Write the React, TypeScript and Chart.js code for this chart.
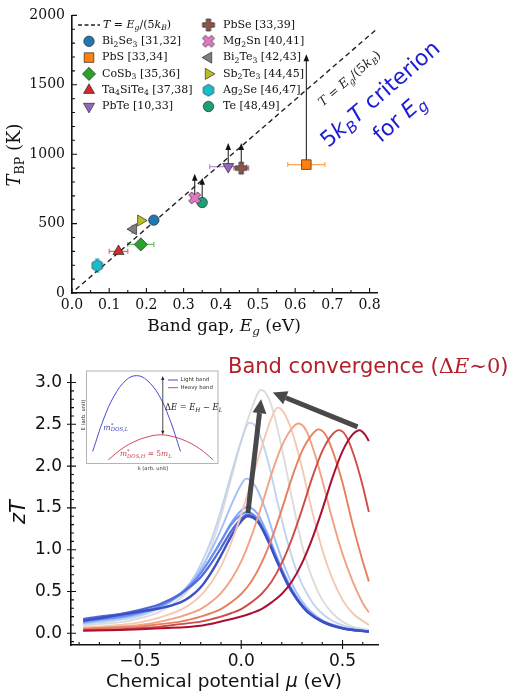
import React, { useEffect, useRef } from "react";
import { Chart, registerables } from "chart.js";
import { drawPoint } from "chart.js/helpers";

Chart.register(...registerables);

const SERIF = "'DejaVu Serif', serif";
const SANS = "'DejaVu Sans', sans-serif";
const INK = "#111";

// ---------- upper panel: T_BP against band gap ----------
const MATERIALS = ["Bi_2Se_3", "PbS", "CoSb_3", "Ta_4SiTe_4", "PbTe", "PbSe", "Mg_2Sn", "Bi_2Te_3", "Sb_2Te_3", "Ag_2Se", "Te"];
const REFS = ["[31,32]", "[33,34]", "[35,36]", "[37,38]", "[10,33]", "[33,39]", "[40,41]", "[42,43]", "[44,45]", "[46,47]", "[48,49]"];
const BAND_GAP = [0.22, 0.63, 0.185, 0.125, 0.42, 0.455, 0.33, 0.165, 0.185, 0.068, 0.35];
const T_BP = [525, 925, 350, 300, 910, 900, 685, 460, 522, 198, 652];
const GAP_ERR = [0, 0.05, 0.035, 0.025, 0.05, 0.02, 0, 0, 0, 0, 0];
const T_ERR = [0, 0, 0, 0, 0, 0, 0, 28, 0, 48, 0];
const T_ARROW_TOP = [null, 1720, null, null, 1080, 1080, 860, null, null, null, 830];
const CRITERION_LINE = [
  { x: 0.01, y: 25 },
  { x: 0.835, y: 1938 },
];

const MARKER_COLORS = ["#1f77b4", "#ff7f0e", "#2ca02c", "#d62728", "#9467bd", "#8c564b", "#e377c2", "#7f7f7f", "#bcbd22", "#17becf", "#1f9e78"];
const MARKER_KINDS = ["circle", "rect", "diamond", "up", "down", "plus", "x", "left", "right", "hexagon", "circle"];

// ---------- lower panel: zT against chemical potential ----------
const ZT_RED_5 = [[-0.78, 0.03], [-0.6, 0.04], [-0.4, 0.06], [-0.2, 0.09], [-0.1, 0.14], [0, 0.2], [0.05, 0.24], [0.1, 0.29], [0.15, 0.37], [0.2, 0.47], [0.25, 0.62], [0.3, 0.84], [0.35, 1.13], [0.4, 1.48], [0.45, 1.86], [0.5, 2.18], [0.55, 2.38], [0.585, 2.43], [0.61, 2.38], [0.63, 2.3]];
const ZT_RED_4 = [[-0.78, 0.04], [-0.6, 0.05], [-0.4, 0.08], [-0.3, 0.11], [-0.2, 0.14], [-0.1, 0.2], [-0.05, 0.24], [0, 0.29], [0.05, 0.37], [0.1, 0.47], [0.15, 0.62], [0.2, 0.84], [0.25, 1.13], [0.3, 1.48], [0.35, 1.86], [0.4, 2.18], [0.45, 2.38], [0.483, 2.43], [0.52, 2.35], [0.56, 2.1], [0.6, 1.76], [0.63, 1.45]];
const ZT_RED_3 = [[-0.78, 0.05], [-0.6, 0.07], [-0.5, 0.08], [-0.4, 0.11], [-0.3, 0.14], [-0.2, 0.2], [-0.15, 0.24], [-0.1, 0.29], [-0.05, 0.37], [0, 0.47], [0.05, 0.62], [0.1, 0.84], [0.15, 1.13], [0.2, 1.48], [0.25, 1.86], [0.3, 2.18], [0.35, 2.38], [0.382, 2.44], [0.42, 2.36], [0.46, 2.12], [0.5, 1.8], [0.55, 1.3], [0.6, 0.86], [0.63, 0.62]];
const ZT_RED_2 = [[-0.78, 0.06], [-0.6, 0.08], [-0.5, 0.1], [-0.4, 0.14], [-0.3, 0.2], [-0.25, 0.24], [-0.2, 0.29], [-0.15, 0.37], [-0.1, 0.48], [-0.05, 0.64], [0, 0.86], [0.05, 1.16], [0.1, 1.52], [0.15, 1.91], [0.2, 2.24], [0.25, 2.45], [0.283, 2.51], [0.32, 2.43], [0.36, 2.17], [0.4, 1.83], [0.45, 1.36], [0.5, 0.95], [0.55, 0.62], [0.6, 0.36], [0.63, 0.25]];
const ZT_RED_1 = [[-0.78, 0.07], [-0.7, 0.08], [-0.6, 0.1], [-0.5, 0.13], [-0.4, 0.19], [-0.3, 0.28], [-0.25, 0.35], [-0.2, 0.45], [-0.15, 0.6], [-0.1, 0.8], [-0.05, 1.08], [0, 1.42], [0.05, 1.82], [0.1, 2.22], [0.15, 2.58], [0.18, 2.7], [0.21, 2.64], [0.25, 2.42], [0.3, 1.98], [0.35, 1.46], [0.4, 1.0], [0.45, 0.65], [0.5, 0.4], [0.55, 0.24], [0.63, 0.1]];
const ZT_GRAY = [[-0.78, 0.09], [-0.7, 0.11], [-0.6, 0.13], [-0.5, 0.18], [-0.4, 0.26], [-0.3, 0.42], [-0.25, 0.55], [-0.2, 0.74], [-0.15, 1.02], [-0.1, 1.4], [-0.05, 1.85], [0, 2.3], [0.05, 2.68], [0.098, 2.91], [0.125, 2.86], [0.15, 2.72], [0.2, 2.22], [0.25, 1.62], [0.3, 1.06], [0.35, 0.66], [0.4, 0.4], [0.45, 0.24], [0.5, 0.14], [0.55, 0.08], [0.63, 0.04]];
const ZT_BLUE_6 = [[-0.78, 0.11], [-0.7, 0.13], [-0.6, 0.16], [-0.5, 0.21], [-0.4, 0.3], [-0.3, 0.47], [-0.25, 0.61], [-0.2, 0.82], [-0.15, 1.1], [-0.1, 1.47], [-0.05, 1.9], [0, 2.3], [0.04, 2.52], [0.08, 2.44], [0.13, 2.08], [0.18, 1.56], [0.23, 1.08], [0.28, 0.7], [0.33, 0.45], [0.38, 0.28], [0.45, 0.15], [0.55, 0.06], [0.63, 0.03]];
const ZT_BLUE_5 = [[-0.78, 0.12], [-0.7, 0.15], [-0.6, 0.18], [-0.5, 0.23], [-0.4, 0.32], [-0.3, 0.48], [-0.25, 0.6], [-0.2, 0.77], [-0.15, 0.98], [-0.1, 1.24], [-0.05, 1.53], [0, 1.78], [0.025, 1.85], [0.07, 1.76], [0.12, 1.48], [0.17, 1.1], [0.22, 0.76], [0.27, 0.5], [0.32, 0.32], [0.38, 0.19], [0.45, 0.1], [0.55, 0.04], [0.63, 0.02]];
const ZT_BLUE_4 = [[-0.78, 0.13], [-0.7, 0.16], [-0.6, 0.19], [-0.5, 0.24], [-0.4, 0.32], [-0.3, 0.46], [-0.25, 0.57], [-0.2, 0.72], [-0.15, 0.9], [-0.1, 1.1], [-0.05, 1.32], [0, 1.47], [0.03, 1.51], [0.08, 1.43], [0.13, 1.19], [0.18, 0.89], [0.23, 0.62], [0.28, 0.41], [0.33, 0.27], [0.4, 0.15], [0.5, 0.07], [0.63, 0.02]];
const ZT_BLUE_3 = [[-0.78, 0.14], [-0.7, 0.17], [-0.6, 0.2], [-0.5, 0.25], [-0.4, 0.33], [-0.3, 0.47], [-0.25, 0.58], [-0.2, 0.72], [-0.15, 0.9], [-0.1, 1.1], [-0.05, 1.3], [0, 1.42], [0.03, 1.45], [0.08, 1.37], [0.13, 1.15], [0.18, 0.86], [0.23, 0.6], [0.28, 0.4], [0.33, 0.26], [0.4, 0.14], [0.5, 0.06], [0.63, 0.02]];
const ZT_BLUE_2 = [[-0.78, 0.17], [-0.7, 0.2], [-0.6, 0.23], [-0.5, 0.28], [-0.4, 0.35], [-0.3, 0.47], [-0.25, 0.56], [-0.2, 0.67], [-0.15, 0.83], [-0.1, 1.02], [-0.05, 1.22], [0, 1.37], [0.03, 1.42], [0.08, 1.35], [0.13, 1.13], [0.18, 0.85], [0.23, 0.59], [0.28, 0.39], [0.33, 0.25], [0.4, 0.14], [0.5, 0.06], [0.63, 0.02]];
const ZT_BLUE_1 = [[-0.78, 0.15], [-0.7, 0.18], [-0.6, 0.22], [-0.5, 0.26], [-0.4, 0.3], [-0.3, 0.37], [-0.25, 0.44], [-0.2, 0.55], [-0.15, 0.72], [-0.1, 0.93], [-0.05, 1.16], [0, 1.34], [0.03, 1.4], [0.08, 1.34], [0.13, 1.12], [0.18, 0.84], [0.23, 0.58], [0.28, 0.39], [0.33, 0.25], [0.4, 0.14], [0.5, 0.06], [0.63, 0.02]];

// first entry is drawn on top
const ZT_SERIES = [ZT_RED_5, ZT_RED_4, ZT_RED_3, ZT_RED_2, ZT_RED_1, ZT_BLUE_1, ZT_BLUE_2, ZT_BLUE_3, ZT_BLUE_4, ZT_BLUE_5, ZT_BLUE_6, ZT_GRAY];
const ZT_COLORS = ["#ab0f30", "#cf4d49", "#e8805f", "#f2a283", "#f4c8b3", "#3d4fc4", "#5069d8", "#6a8ef0", "#86a8fb", "#a3bff8", "#c2d3ee", "#dcdcdc"];
const ZT_WIDTHS = [2.0, 1.9, 1.9, 1.9, 1.9, 2.4, 2.3, 2.2, 2.0, 1.9, 1.9, 1.9];

// [mu0, zT0, mu1, zT1]
const TREND_ARROWS = [
  [0.033, 1.44, 0.098, 2.8],
  [0.574, 2.47, 0.156, 2.88],
];

// ---------- inset: band sketch ----------
const LIGHT_K = [0.047, 0.13, 0.21, 0.3, 0.381, 0.46, 0.55, 0.63, 0.715];
const LIGHT_E = [0.13, 0.48, 0.73, 0.9, 0.95, 0.9, 0.74, 0.49, 0.13];
const HEAVY_K = [0.166, 0.27, 0.37, 0.47, 0.565, 0.66, 0.76, 0.86, 0.964];
const HEAVY_E = [0.04, 0.16, 0.24, 0.29, 0.31, 0.29, 0.24, 0.16, 0.04];
const GAP_ARROW = [0.58, 0.31, 0.945]; // k, E bottom, E top

type Run = { t: string; it?: boolean; sub?: boolean; sup?: boolean; keep?: boolean; fam?: string };

function parseSub(s: string): Run[] {
  const runs: Run[] = [];
  let buf = "";
  for (let i = 0; i < s.length; i++) {
    if (s[i] === "_") {
      if (buf) runs.push({ t: buf });
      buf = "";
      runs.push({ t: s[i + 1], sub: true });
      i++;
    } else buf += s[i];
  }
  if (buf) runs.push({ t: buf });
  return runs;
}

function drawRich(ctx, runs: Run[], x, y, size, fam, color, align = "left", angle = 0) {
  const fontOf = (r: Run) =>
    `${r.it ? "italic " : ""}${r.sub || r.sup ? size * 0.7 : size}px ${r.fam ?? fam}`;
  ctx.save();
  ctx.translate(x, y);
  if (angle) ctx.rotate(angle);
  ctx.textBaseline = "middle";
  ctx.textAlign = "left";
  ctx.fillStyle = color;
  let w = 0;
  for (const r of runs) {
    ctx.font = fontOf(r);
    if (!r.keep) w += ctx.measureText(r.t).width;
  }
  let cx = align === "center" ? -w / 2 : align === "right" ? -w : 0;
  for (const r of runs) {
    ctx.font = fontOf(r);
    const dy = r.sub ? size * 0.3 : r.sup ? -size * 0.33 : 0;
    ctx.fillText(r.t, cx, dy);
    if (!r.keep) cx += ctx.measureText(r.t).width;
  }
  ctx.restore();
}

function withAlpha(hex: string, a: number) {
  const n = parseInt(hex.slice(1), 16);
  return `rgba(${(n >> 16) & 255},${(n >> 8) & 255},${n & 255},${a})`;
}

function steps(from: number, to: number, step: number) {
  const out: number[] = [];
  for (let k = 0; from + k * step <= to + 1e-9; k++) out.push(+(from + k * step).toFixed(6));
  return out;
}

function drawTicks(chart, xMinor: number[], yMinor: number[], inMajor, outMajor, inMinor) {
  const { ctx, chartArea: a, scales } = chart;
  const { x, y } = scales;
  ctx.save();
  ctx.strokeStyle = INK;
  ctx.lineWidth = 1.1;
  ctx.beginPath();
  for (const t of x.ticks) {
    const p = x.getPixelForValue(t.value);
    ctx.moveTo(p, a.bottom + outMajor);
    ctx.lineTo(p, a.bottom - inMajor);
  }
  for (const v of xMinor) {
    const p = x.getPixelForValue(v);
    ctx.moveTo(p, a.bottom);
    ctx.lineTo(p, a.bottom - inMinor);
  }
  for (const t of y.ticks) {
    const p = y.getPixelForValue(t.value);
    ctx.moveTo(a.left - outMajor, p);
    ctx.lineTo(a.left + inMajor, p);
  }
  for (const v of yMinor) {
    const p = y.getPixelForValue(v);
    ctx.moveTo(a.left, p);
    ctx.lineTo(a.left + inMinor, p);
  }
  ctx.stroke();
  ctx.restore();
}

function makeMarkerImage(kind: string, fill: string) {
  const c = document.createElement("canvas");
  c.width = 16;
  c.height = 16;
  const g = c.getContext("2d")!;
  g.translate(8, 8);
  g.beginPath();
  if (kind === "hexagon") {
    for (let k = 0; k < 6; k++) {
      const ang = -Math.PI / 2 + (k * Math.PI) / 3;
      const px = 6 * Math.cos(ang);
      const py = 6 * Math.sin(ang);
      if (k === 0) g.moveTo(px, py);
      else g.lineTo(px, py);
    }
  } else {
    const a = kind === "x" ? 6.3 : 6;
    const t = 2.2;
    if (kind === "x") g.rotate(Math.PI / 4);
    const pts = [[-t, -a], [t, -a], [t, -t], [a, -t], [a, t], [t, t], [t, a], [-t, a], [-t, t], [-a, t], [-a, -t], [-t, -t]];
    pts.forEach(([px, py], k) => (k === 0 ? g.moveTo(px, py) : g.lineTo(px, py)));
  }
  g.closePath();
  g.fillStyle = fill;
  g.fill();
  g.lineWidth = 0.8;
  g.strokeStyle = "rgba(40,40,40,0.85)";
  g.stroke();
  return c;
}

function markerStyle(kind: string, fill: string) {
  switch (kind) {
    case "circle": return { pointStyle: "circle", rotation: 0, radius: 5.2 };
    case "rect": return { pointStyle: "rect", rotation: 0, radius: 6.8 };
    case "diamond": return { pointStyle: "rectRot", rotation: 0, radius: 6.6 };
    case "up": return { pointStyle: "triangle", rotation: 0, radius: 6.4 };
    case "down": return { pointStyle: "triangle", rotation: 180, radius: 6.4 };
    case "left": return { pointStyle: "triangle", rotation: -90, radius: 6.4 };
    case "right": return { pointStyle: "triangle", rotation: 90, radius: 6.4 };
    default: return { pointStyle: makeMarkerImage(kind, fill), rotation: 0, radius: 6 };
  }
}

const EDGE = "rgba(40,40,40,0.85)";

function buildTop(canvas: HTMLCanvasElement) {
  const styles = MATERIALS.map((_, i) => markerStyle(MARKER_KINDS[i], MARKER_COLORS[i]));
  const mathT = (): Run[] => [
    { t: "T", it: true }, { t: " = " }, { t: "E", it: true }, { t: "g", it: true, sub: true },
    { t: "/(5" }, { t: "k", it: true }, { t: "B", it: true, sub: true }, { t: ")" },
  ];

  const decor = {
    id: "topDecor",
    beforeDatasetsDraw(chart) {
      const { ctx, scales } = chart;
      const { x, y } = scales;
      ctx.save();
      BAND_GAP.forEach((g, i) => {
        const px = x.getPixelForValue(g);
        const py = y.getPixelForValue(T_BP[i]);
        ctx.strokeStyle = withAlpha(MARKER_COLORS[i], 0.7);
        ctx.lineWidth = 1.2;
        ctx.beginPath();
        if (GAP_ERR[i]) {
          const a = x.getPixelForValue(g - GAP_ERR[i]);
          const b = x.getPixelForValue(g + GAP_ERR[i]);
          ctx.moveTo(a, py); ctx.lineTo(b, py);
          ctx.moveTo(a, py - 2.5); ctx.lineTo(a, py + 2.5);
          ctx.moveTo(b, py - 2.5); ctx.lineTo(b, py + 2.5);
        }
        if (T_ERR[i]) {
          const a = y.getPixelForValue(T_BP[i] - T_ERR[i]);
          const b = y.getPixelForValue(T_BP[i] + T_ERR[i]);
          ctx.moveTo(px, a); ctx.lineTo(px, b);
          ctx.moveTo(px - 2.5, a); ctx.lineTo(px + 2.5, a);
          ctx.moveTo(px - 2.5, b); ctx.lineTo(px + 2.5, b);
        }
        ctx.stroke();
        const topV = T_ARROW_TOP[i];
        if (topV != null) {
          const tp = y.getPixelForValue(topV);
          ctx.strokeStyle = INK;
          ctx.fillStyle = INK;
          ctx.lineWidth = 1;
          ctx.beginPath();
          ctx.moveTo(px, py);
          ctx.lineTo(px, tp + 5);
          ctx.stroke();
          ctx.beginPath();
          ctx.moveTo(px, tp);
          ctx.lineTo(px - 2.8, tp + 7);
          ctx.lineTo(px + 2.8, tp + 7);
          ctx.closePath();
          ctx.fill();
        }
      });
      ctx.restore();
    },
    afterDraw(chart) {
      const { ctx, scales } = chart;
      const { x, y } = scales;
      drawTicks(chart, steps(0, 0.8, 0.05), steps(0, 2000, 100), 5, 0, 3);

      // axis titles
      drawRich(ctx, [{ t: "T", it: true }, { t: "BP", sub: true }, { t: " (K)" }], 15, 155, 18, SERIF, INK, "center", -Math.PI / 2);
      drawRich(ctx, [{ t: "Band gap, " }, { t: "E", it: true }, { t: "g", it: true, sub: true }, { t: " (eV)" }], 224, 327, 17, SERIF, INK, "center");

      // legend
      ctx.save();
      ctx.strokeStyle = "#222";
      ctx.lineWidth = 1.3;
      ctx.setLineDash([4, 2.5]);
      ctx.beginPath();
      ctx.moveTo(78, 25);
      ctx.lineTo(100, 25);
      ctx.stroke();
      ctx.restore();
      drawRich(ctx, mathT(), 103, 25, 11, SERIF, INK);
      MATERIALS.forEach((m, i) => {
        const col = i < 5 ? 0 : 1;
        const row = i < 5 ? i + 1 : i - 5;
        const mx = col === 0 ? 89 : 208.5;
        const my = 25 + row * 16.3;
        const st = styles[i];
        ctx.save();
        ctx.fillStyle = MARKER_COLORS[i];
        ctx.strokeStyle = EDGE;
        ctx.lineWidth = 0.8;
        drawPoint(ctx, { pointStyle: st.pointStyle, rotation: st.rotation, radius: st.radius, borderWidth: 0.8 }, mx, my);
        ctx.restore();
        drawRich(ctx, parseSub(`${m} ${REFS[i]}`), col === 0 ? 102 : 223, my, 11, SERIF, INK);
      });

      // annotations along the criterion line
      const p0 = CRITERION_LINE[0];
      const p1 = CRITERION_LINE[1];
      const ang = Math.atan2(
        y.getPixelForValue(p1.y) - y.getPixelForValue(p0.y),
        x.getPixelForValue(p1.x) - x.getPixelForValue(p0.x)
      );
      drawRich(ctx, mathT(), 350, 79, 12.5, SERIF, "#222", "center", ang);
      const blue = "#1c1cd6";
      drawRich(ctx, [{ t: "5" }, { t: "k", it: true }, { t: "B", it: true, sub: true }, { t: "T", it: true }, { t: " criterion" }], 381, 95, 22, SANS, blue, "center", ang);
      drawRich(ctx, [{ t: "for " }, { t: "E", it: true }, { t: "g", it: true, sub: true }], 400, 119, 22, SANS, blue, "center", ang);
    },
  };

  return new Chart(canvas, {
    type: "scatter",
    data: {
      datasets: [
        ...MATERIALS.map((m, i) => ({
          label: m,
          data: [{ x: BAND_GAP[i], y: T_BP[i] }],
          pointStyle: styles[i].pointStyle,
          pointRotation: styles[i].rotation,
          pointRadius: styles[i].radius,
          backgroundColor: MARKER_COLORS[i],
          borderColor: EDGE,
          borderWidth: 0.8,
          order: 0,
        })),
        {
          label: "criterion",
          data: CRITERION_LINE,
          showLine: true,
          borderColor: "#222",
          borderWidth: 1.4,
          borderDash: [5, 3.5],
          pointRadius: 0,
          order: 1,
        },
      ],
    },
    options: {
      responsive: false,
      animation: false,
      events: [],
      layout: { padding: { left: 0, top: 14, right: 154, bottom: 0 } },
      plugins: { legend: { display: false }, tooltip: { enabled: false } },
      scales: {
        x: {
          type: "linear",
          min: 0,
          max: 0.82,
          afterFit: (s) => { s.height = 47; },
          grid: { display: true, drawOnChartArea: false, drawTicks: false },
          border: { display: true, color: INK, width: 1.6 },
          ticks: { stepSize: 0.1, includeBounds: false, padding: 4, color: INK, font: { family: SERIF, size: 14 }, callback: (v) => Number(v).toFixed(1) },
        },
        y: {
          type: "linear",
          min: 0,
          max: 2000,
          afterFit: (s) => { s.width = 72; },
          grid: { display: true, drawOnChartArea: false, drawTicks: false },
          border: { display: true, color: INK, width: 1.6 },
          ticks: { stepSize: 500, includeBounds: false, padding: 7, color: INK, font: { family: SERIF, size: 14 }, callback: (v) => String(v) },
        },
      },
    },
    plugins: [decor],
  });
}

function buildBottom(canvas: HTMLCanvasElement) {
  const decor = {
    id: "bottomDecor",
    afterDatasetsDraw(chart) {
      const { ctx, scales } = chart;
      const { x, y } = scales;
      ctx.save();
      ctx.fillStyle = "rgba(58,58,58,0.92)";
      ctx.strokeStyle = "rgba(58,58,58,0.92)";
      for (const [m0, z0, m1, z1] of TREND_ARROWS) {
        const x0 = x.getPixelForValue(m0);
        const y0 = y.getPixelForValue(z0);
        const x1 = x.getPixelForValue(m1);
        const y1 = y.getPixelForValue(z1);
        const len = Math.hypot(x1 - x0, y1 - y0);
        const ux = (x1 - x0) / len;
        const uy = (y1 - y0) / len;
        const head = 14;
        ctx.lineWidth = 5;
        ctx.beginPath();
        ctx.moveTo(x0, y0);
        ctx.lineTo(x1 - ux * head, y1 - uy * head);
        ctx.stroke();
        ctx.beginPath();
        ctx.moveTo(x1, y1);
        ctx.lineTo(x1 - ux * head - uy * 7, y1 - uy * head + ux * 7);
        ctx.lineTo(x1 - ux * head + uy * 7, y1 - uy * head - ux * 7);
        ctx.closePath();
        ctx.fill();
      }
      ctx.restore();
    },
    afterDraw(chart) {
      const { ctx } = chart;
      drawTicks(chart, steps(-0.8, 0.6, 0.1), steps(-0.1, 3.0, 0.1), 5, 4, 3);
      drawRich(ctx, [{ t: "zT", it: true }], 20, 172, 21, SANS, INK, "center", -Math.PI / 2);
      drawRich(ctx, [{ t: "Chemical potential " }, { t: "μ", it: true }, { t: " (eV)" }], 224, 342, 18.5, SANS, INK, "center");
      drawRich(
        ctx,
        [{ t: "Band convergence (" }, { t: "Δ", fam: SERIF }, { t: "E", it: true, fam: SERIF }, { t: "∼", fam: SERIF }, { t: "0", fam: SERIF }, { t: ")" }],
        228, 28, 21, SANS, "#b2202c"
      );
    },
  };

  return new Chart(canvas, {
    type: "scatter",
    data: {
      datasets: ZT_SERIES.map((s, i) => ({
        label: `curve ${i}`,
        data: s.map(([m, z]) => ({ x: m, y: z })),
        showLine: true,
        borderColor: ZT_COLORS[i],
        borderWidth: ZT_WIDTHS[i],
        pointRadius: 0,
        cubicInterpolationMode: "monotone",
      })),
    },
    options: {
      responsive: false,
      animation: false,
      events: [],
      layout: { padding: { left: 0, top: 35, right: 153, bottom: 0 } },
      plugins: { legend: { display: false }, tooltip: { enabled: false } },
      scales: {
        x: {
          type: "linear",
          min: -0.84,
          max: 0.675,
          afterFit: (s) => { s.height = 55; },
          grid: { display: true, drawOnChartArea: false, drawTicks: false },
          border: { display: true, color: INK, width: 1.6 },
          ticks: {
            stepSize: 0.5, includeBounds: false, padding: 6, color: INK, font: { family: SANS, size: 17 },
            callback: (v) => (Number(v) < 0 ? "−" + Math.abs(Number(v)).toFixed(1) : Number(v).toFixed(1)),
          },
        },
        y: {
          type: "linear",
          min: -0.14,
          max: 3.09,
          afterFit: (s) => { s.width = 71; },
          grid: { display: true, drawOnChartArea: false, drawTicks: false },
          border: { display: true, color: INK, width: 1.6 },
          ticks: { stepSize: 0.5, includeBounds: false, padding: 9, color: INK, font: { family: SANS, size: 17 }, callback: (v) => Number(v).toFixed(1) },
        },
      },
    },
    plugins: [decor],
  });
}

function buildInset(canvas: HTMLCanvasElement) {
  const lightC = "#4b4bd6";
  const heavyC = "#d0485a";
  const decor = {
    id: "insetDecor",
    beforeDraw(chart) {
      const { ctx, chartArea: a } = chart;
      ctx.save();
      ctx.fillStyle = "#fff";
      ctx.fillRect(a.left, a.top, a.right - a.left, a.bottom - a.top);
      ctx.restore();
    },
    afterDraw(chart) {
      const { ctx, chartArea: a, scales } = chart;
      const { x, y } = scales;
      ctx.save();
      ctx.strokeStyle = "#b4b4b4";
      ctx.lineWidth = 1;
      ctx.strokeRect(a.left, a.top, a.right - a.left, a.bottom - a.top);

      // ΔE arrow
      const px = x.getPixelForValue(GAP_ARROW[0]);
      const yb = y.getPixelForValue(GAP_ARROW[1]);
      const yt = y.getPixelForValue(GAP_ARROW[2]);
      ctx.strokeStyle = "#222";
      ctx.fillStyle = "#222";
      ctx.lineWidth = 0.8;
      ctx.beginPath();
      ctx.moveTo(px, yb - 3);
      ctx.lineTo(px, yt + 3);
      ctx.stroke();
      ctx.beginPath();
      ctx.moveTo(px, yt); ctx.lineTo(px - 1.6, yt + 4); ctx.lineTo(px + 1.6, yt + 4); ctx.closePath();
      ctx.moveTo(px, yb); ctx.lineTo(px - 1.6, yb - 4); ctx.lineTo(px + 1.6, yb - 4); ctx.closePath();
      ctx.fill();

      // legend
      ctx.lineWidth = 1;
      ctx.strokeStyle = lightC;
      ctx.beginPath(); ctx.moveTo(92, 14); ctx.lineTo(102, 14); ctx.stroke();
      ctx.strokeStyle = heavyC;
      ctx.beginPath(); ctx.moveTo(92, 21.7); ctx.lineTo(102, 21.7); ctx.stroke();
      ctx.restore();
      drawRich(ctx, [{ t: "Light band" }], 104.5, 14, 5.4, SANS, "#333");
      drawRich(ctx, [{ t: "Heavy band" }], 104.5, 21.7, 5.4, SANS, "#333");

      drawRich(
        ctx,
        [{ t: "Δ" }, { t: "E", it: true }, { t: " = " }, { t: "E", it: true }, { t: "H", it: true, sub: true }, { t: " − " }, { t: "E", it: true }, { t: "L", it: true, sub: true }],
        89, 42.3, 8.3, SERIF, "#222"
      );
      drawRich(ctx, [{ t: "m", it: true }, { t: "*", sup: true, keep: true }, { t: "DOS,L", it: true, sub: true }], 27.3, 61.7, 7.8, SERIF, "#4646d0");
      drawRich(
        ctx,
        [{ t: "m", it: true }, { t: "*", sup: true, keep: true }, { t: "DOS,H", it: true, sub: true }, { t: " = 5" }, { t: "m", it: true }, { t: "L", it: true, sub: true }],
        44, 88.3, 7.5, SERIF, "#c8404e"
      );
      drawRich(ctx, [{ t: "E (arb. unit)" }], 7.5, 49, 5.2, SANS, "#333", "center", -Math.PI / 2);
      drawRich(ctx, [{ t: "k (arb. unit)" }], 77, 102.5, 5.2, SANS, "#333", "center");
    },
  };

  return new Chart(canvas, {
    type: "scatter",
    data: {
      datasets: [
        { label: "Light band", data: LIGHT_K.map((k, i) => ({ x: k, y: LIGHT_E[i] })), showLine: true, borderColor: lightC, borderWidth: 1, pointRadius: 0, tension: 0.4 },
        { label: "Heavy band", data: HEAVY_K.map((k, i) => ({ x: k, y: HEAVY_E[i] })), showLine: true, borderColor: heavyC, borderWidth: 1, pointRadius: 0, tension: 0.4 },
      ],
    },
    options: {
      responsive: false,
      animation: false,
      events: [],
      layout: { padding: { left: 10.5, top: 5, right: 4, bottom: 10.5 } },
      plugins: { legend: { display: false }, tooltip: { enabled: false } },
      scales: {
        x: { type: "linear", min: 0, max: 1, display: false },
        y: { type: "linear", min: 0, max: 1, display: false },
      },
    },
    plugins: [decor],
  });
}

export default function App() {
  const topRef = useRef<HTMLCanvasElement>(null);
  const bottomRef = useRef<HTMLCanvasElement>(null);
  const insetRef = useRef<HTMLCanvasElement>(null);

  useEffect(() => {
    if (!topRef.current || !bottomRef.current || !insetRef.current) return;
    const charts = [buildTop(topRef.current), buildBottom(bottomRef.current), buildInset(insetRef.current)];
    return () => {
      charts.forEach((c) => c.destroy());
    };
  }, []);

  return (
    <div style={{ position: "absolute", left: 0, top: 0, width: 531, height: 700, background: "#fff" }}>
      <canvas ref={topRef} width={531} height={340} style={{ position: "absolute", left: 0, top: 0 }} />
      <canvas ref={bottomRef} width={531} height={360} style={{ position: "absolute", left: 0, top: 340 }} />
      <canvas ref={insetRef} width={146} height={108} style={{ position: "absolute", left: 76, top: 366 }} />
    </div>
  );
}
